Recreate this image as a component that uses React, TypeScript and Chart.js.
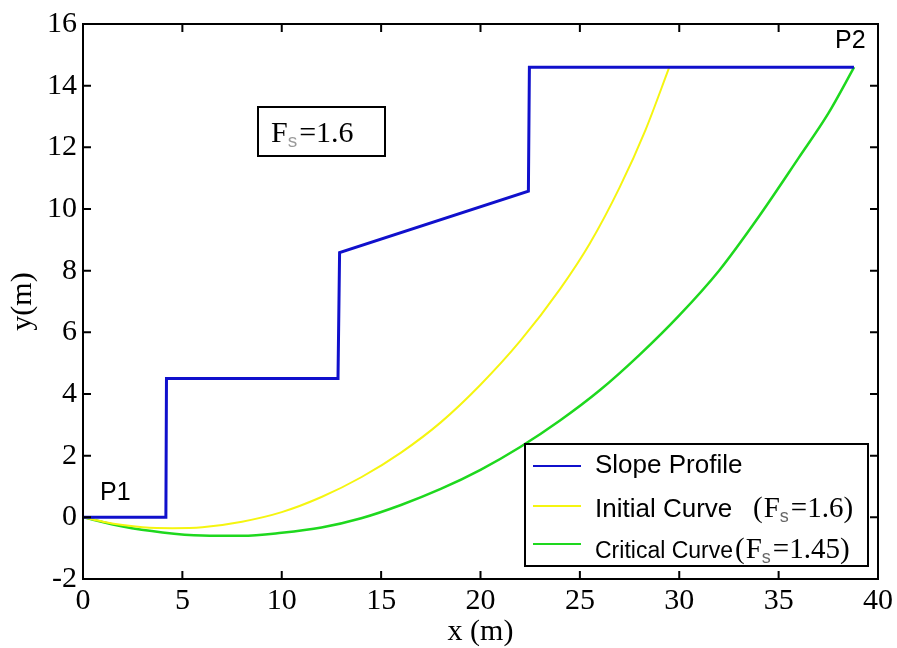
import React, { useEffect, useRef } from "react";
import { Chart, registerables } from "chart.js";

Chart.register(...registerables);

const slopeX = [0, 4.17, 4.2, 12.83, 12.91, 22.41, 22.46, 38.79];
const slopeY = [0, 0, 4.5, 4.5, 8.59, 10.58, 14.6, 14.6];

const initialX = [0, 1, 2, 3, 4.5, 6, 8, 10, 12, 14, 16, 18, 20, 22, 24, 25.5, 27, 28.3, 29.5];
const initialY = [0, -0.14, -0.25, -0.32, -0.35, -0.32, -0.14, 0.17, 0.66, 1.3, 2.1, 3.08, 4.3, 5.72, 7.4, 8.88, 10.7, 12.56, 14.6];

const criticalX = [0, 2, 4, 6, 8, 10, 12, 14, 16, 18, 20, 22, 24, 26, 28, 30, 32, 34, 36, 37.5, 38.8];
const criticalY = [0, -0.3, -0.49, -0.59, -0.6, -0.5, -0.33, -0.03, 0.4, 0.92, 1.54, 2.28, 3.14, 4.12, 5.27, 6.55, 8.0, 9.75, 11.65, 13.1, 14.6];

const xTicks = [0, 5, 10, 15, 20, 25, 30, 35, 40];
const yTicks = [-2, 0, 2, 4, 6, 8, 10, 12, 14, 16];

const legendLabels = ["Slope Profile", "Initial Curve", "Critical Curve"];
const legendFs = ["", "1.6", "1.45"];
const annotationFs = "1.6";
const pointLabels = ["P1", "P2"];

const SERIF = "'Liberation Serif', 'DejaVu Serif', serif";
const SANS = "'Liberation Sans', Arial, sans-serif";

const toPts = (xs: number[], ys: number[]) => xs.map((x, i) => ({ x, y: ys[i] }));

function drawFs(ctx: CanvasRenderingContext2D, x: number, y: number, size: number, value: string, paren: boolean, subColor: string) {
  ctx.textAlign = "left";
  ctx.textBaseline = "alphabetic";
  ctx.fillStyle = "#000";
  ctx.font = `${size}px ${SERIF}`;
  let cx = x;
  if (paren) {
    ctx.fillText("(", cx, y);
    cx += ctx.measureText("(").width + 1;
  }
  ctx.fillText("F", cx, y);
  cx += ctx.measureText("F").width;
  ctx.font = `${Math.round(size * 0.62)}px ${SANS}`;
  ctx.fillStyle = subColor;
  ctx.fillText("s", cx, y + size * 0.18);
  cx += ctx.measureText("s").width + 2;
  ctx.font = `${size}px ${SERIF}`;
  ctx.fillStyle = "#000";
  const rest = "=" + value + (paren ? ")" : "");
  ctx.fillText(rest, cx, y);
}

const framePlugin = {
  id: "framePlugin",
  afterDatasetsDraw(chart: any) {
    const { ctx, chartArea } = chart;
    const { left, right, top, bottom } = chartArea;
    const xs = chart.scales.x;
    const ys = chart.scales.y;
    ctx.save();
    ctx.strokeStyle = "#000";
    ctx.lineWidth = 2;
    ctx.strokeRect(left, top, right - left, bottom - top);
    const tl = 8;
    ctx.beginPath();
    xTicks.forEach((v) => {
      const px = xs.getPixelForValue(v);
      ctx.moveTo(px, bottom);
      ctx.lineTo(px, bottom - tl);
      ctx.moveTo(px, top);
      ctx.lineTo(px, top + tl);
    });
    yTicks.forEach((v) => {
      const py = ys.getPixelForValue(v);
      ctx.moveTo(left, py);
      ctx.lineTo(left + tl, py);
      ctx.moveTo(right, py);
      ctx.lineTo(right - tl, py);
    });
    ctx.stroke();

    // Point labels
    ctx.fillStyle = "#000";
    ctx.font = `25px ${SANS}`;
    ctx.textAlign = "left";
    ctx.textBaseline = "alphabetic";
    ctx.fillText(pointLabels[0], 100, 500);
    ctx.fillText(pointLabels[1], 835, 48);

    // Annotation box
    ctx.fillStyle = "#fff";
    ctx.fillRect(258, 107, 127, 49);
    ctx.lineWidth = 2;
    ctx.strokeStyle = "#000";
    ctx.strokeRect(258, 107, 127, 49);
    drawFs(ctx, 271, 142, 30, annotationFs, false, "#999");

    // Legend
    const lx = 525, ly = 444, lw = 343, lh = 122;
    ctx.fillStyle = "#fff";
    ctx.fillRect(lx, ly, lw, lh);
    ctx.strokeStyle = "#000";
    ctx.lineWidth = 2;
    ctx.strokeRect(lx, ly, lw, lh);
    const rows = [
      { line: 466, base: 473, size: 26 },
      { line: 506, base: 517, size: 26 },
      { line: 544, base: 558, size: 23 },
    ];
    const fsX = [0, 753, 735];
    chart.data.datasets.forEach((ds: any, i: number) => {
      const r = rows[i];
      ctx.strokeStyle = ds.borderColor;
      ctx.lineWidth = 2;
      ctx.beginPath();
      ctx.moveTo(533, r.line);
      ctx.lineTo(581, r.line);
      ctx.stroke();
      ctx.fillStyle = "#000";
      ctx.font = `${r.size}px ${SANS}`;
      ctx.textAlign = "left";
      ctx.textBaseline = "alphabetic";
      ctx.fillText(legendLabels[i], 595, r.base);
      if (legendFs[i]) {
        drawFs(ctx, fsX[i], r.base, 29, legendFs[i], true, "#666");
      }
    });
    ctx.restore();
  },
};

export default function App() {
  const ref = useRef<HTMLCanvasElement | null>(null);
  useEffect(() => {
    if (!ref.current) return;
    const chart = new Chart(ref.current, {
      type: "scatter",
      data: {
        datasets: [
          {
            label: legendLabels[0],
            data: toPts(slopeX, slopeY),
            showLine: true,
            borderColor: "#1010cc",
            borderWidth: 3,
            pointRadius: 0,
            tension: 0,
          },
          {
            label: legendLabels[1],
            data: toPts(initialX, initialY),
            showLine: true,
            borderColor: "#f5f510",
            borderWidth: 2,
            pointRadius: 0,
            cubicInterpolationMode: "monotone",
          },
          {
            label: legendLabels[2],
            data: toPts(criticalX, criticalY),
            showLine: true,
            borderColor: "#1ed81e",
            borderWidth: 2.5,
            pointRadius: 0,
            cubicInterpolationMode: "monotone",
          },
        ],
      },
      options: {
        animation: false,
        responsive: false,
        layout: { padding: { top: 20, right: 18, left: 0, bottom: 0 } },
        plugins: { legend: { display: false }, tooltip: { enabled: false } },
        scales: {
          x: {
            type: "linear",
            min: 0,
            max: 40,
            afterFit: (s: any) => { s.height = 69; },
            afterBuildTicks: (s: any) => { s.ticks = xTicks.map((v) => ({ value: v })); },
            grid: { display: false, drawTicks: false },
            border: { display: false },
            ticks: { color: "#000", font: { family: SERIF, size: 30 }, padding: 4, maxRotation: 0, autoSkip: false },
            title: { display: true, text: "x (m)", color: "#000", font: { family: SERIF, size: 30 }, padding: { top: 0, bottom: -2 } },
          },
          y: {
            type: "linear",
            min: -2,
            max: 16,
            afterFit: (s: any) => { s.width = 83; },
            afterBuildTicks: (s: any) => { s.ticks = yTicks.map((v) => ({ value: v })); },
            grid: { display: false, drawTicks: false },
            border: { display: false },
            ticks: { color: "#000", font: { family: SERIF, size: 30 }, padding: 6, autoSkip: false },
            title: { display: true, text: "y(m)", color: "#000", font: { family: SERIF, size: 30 }, padding: { top: 5, bottom: 0 } },
          },
        },
      },
      plugins: [framePlugin],
    } as any);
    return () => chart.destroy();
  }, []);
  return (
    <div style={{ position: "fixed", left: 0, top: 0, width: 897, height: 648, background: "#fff" }}>
      <canvas ref={ref} width={897} height={648} style={{ display: "block" }} />
    </div>
  );
}
